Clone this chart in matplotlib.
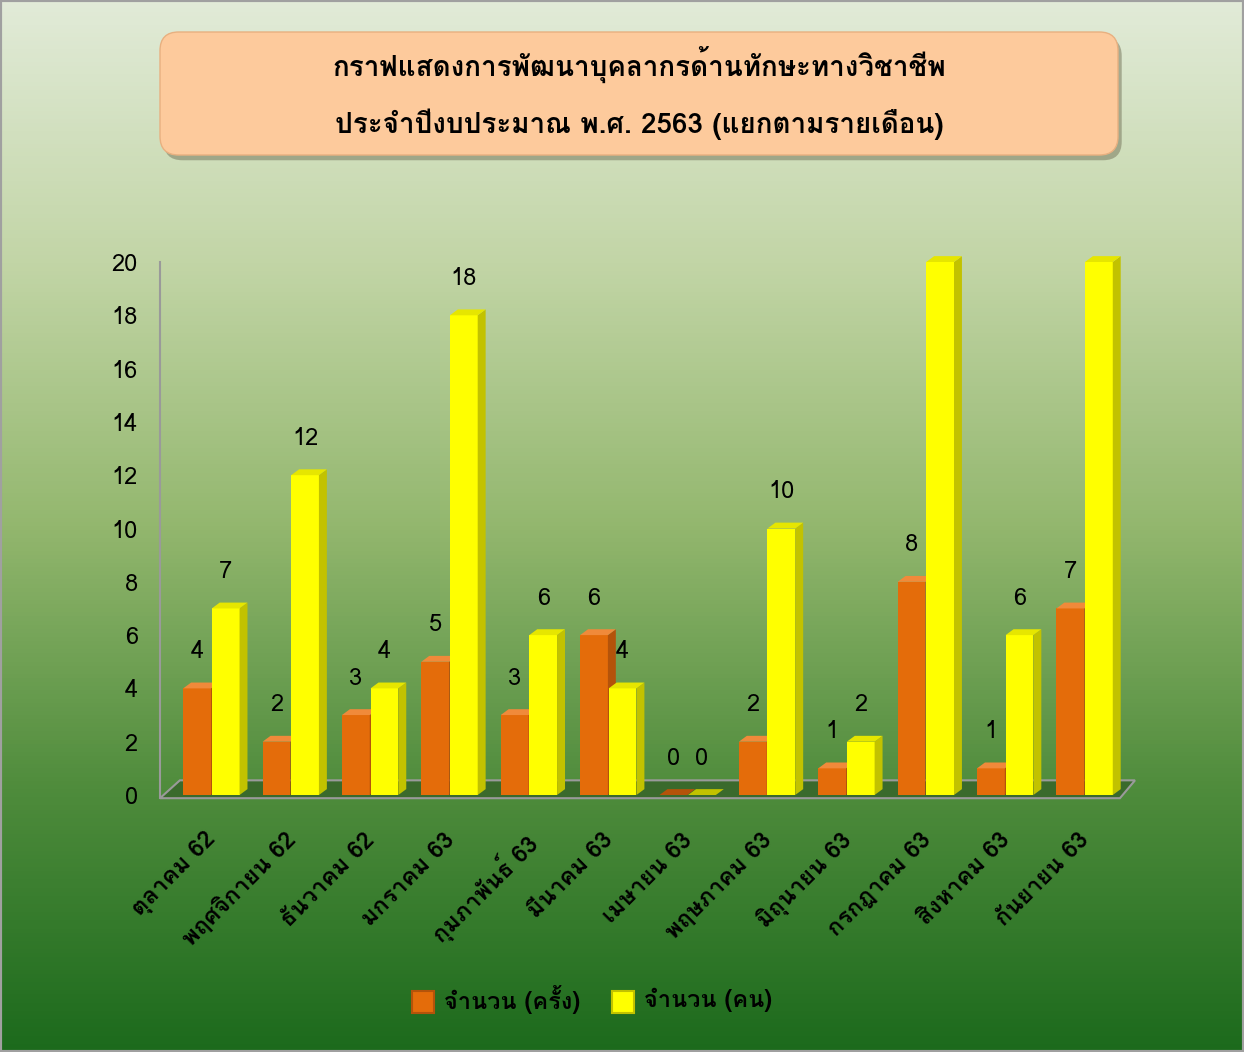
import numpy as np
import matplotlib
matplotlib.use('Agg')
import matplotlib.pyplot as plt
from matplotlib import font_manager
from matplotlib.patches import Polygon, FancyBboxPatch, Rectangle
from matplotlib.colors import LinearSegmentedColormap

# Données
mois = ['ตุลาคม 62', 'พฤศจิกายน 62', 'ธันวาคม 62', 'มกราคม 63', 'กุมภาพันธ์ 63', 'มีนาคม 63',
        'เมษายน 63', 'พฤษภาคม 63', 'มิถุนายน 63', 'กรกฎาคม 63', 'สิงหาคม 63', 'กันยายน 63']
nb_fois = [4, 2, 3, 5, 3, 6, 0, 2, 1, 8, 1, 7]
nb_pers = [7, 12, 4, 18, 6, 4, 0, 10, 2, 20, 6, 32]
serie_noms = ['จำนวน (ครั้ง)', 'จำนวน (คน)']
titre = 'กราฟแสดงการพัฒนาบุคลากรด้านทักษะทางวิชาชีพ\n\nประจำปีงบประมาณ พ.ศ. 2563 (แยกตามรายเดือน)'
y_ticks = list(range(0, 21, 2))


# Recherche d'une police qui contient le thaï
def police_thai():
    try:
        from fontTools.ttLib import TTFont
    except ImportError:
        return None
    vus = set()
    for f in font_manager.fontManager.ttflist:
        if f.name in vus:
            continue
        try:
            cmap = TTFont(f.fname, fontNumber=0, lazy=True).getBestCmap()
        except Exception:
            continue
        vus.add(f.name)
        if cmap and 0x0E01 in cmap and 0x0E33 in cmap:
            return f.name
    return None


thai = police_thai()
fams = ([thai] if thai else []) + ['DejaVu Sans']
plt.rcParams['font.family'] = fams

W, H = 1244, 1052
fig = plt.figure(figsize=(W / 100, H / 100), dpi=100)

# Fond dégradé vert
bg = fig.add_axes([0, 0, 1, 1])
bg.set_axis_off()
cmap_bg = LinearSegmentedColormap.from_list('bg', [
    (0.0, '#e2ebd8'), (0.25, '#c2d5a6'), (0.5, '#93b76e'),
    (0.75, '#4f8c3c'), (1.0, '#1c6a1c')])
grad = np.linspace(0, 1, 256).reshape(-1, 1)
bg.imshow(grad, cmap=cmap_bg, aspect='auto', extent=[0, 1, 0, 1], origin='upper')
bg.add_patch(Rectangle((0, 0), 1, 1, fill=False, edgecolor='#a0a0a0', lw=3, transform=bg.transAxes))
bg.set_xlim(0, 1)
bg.set_ylim(0, 1)

# Cadre du titre
bx0, by0, bw, bh = 160 / W, 1 - 155 / H, 958 / W, 123 / H
bg.add_patch(FancyBboxPatch((bx0 + 0.003, by0 - 0.005), bw, bh, boxstyle='round,pad=0,rounding_size=0.015',
                            facecolor='#7a7a60', edgecolor='none', alpha=0.55, mutation_aspect=W / H))
bg.add_patch(FancyBboxPatch((bx0, by0), bw, bh, boxstyle='round,pad=0,rounding_size=0.015',
                            facecolor='#fdca9c', edgecolor='#e8b080', lw=1, mutation_aspect=W / H))
bg.text(bx0 + bw / 2, by0 + bh / 2, titre, ha='center', va='center', fontsize=20,
        fontweight='bold', color='black', linespacing=1.0)

# Graphique
ax = fig.add_axes([160 / W, 1 - 795 / H, 975 / W, (795 - 262) / H])
ax.set_facecolor('none')
x = np.arange(len(mois))
w = 0.35
ymax = 20
ax.set_xlim(-0.642, 11.64)
ax.set_ylim(0, ymax)
dx, dy = 0.1, 0.22

# Sol
xa, xb = -0.642, 11.45
ax.add_patch(Polygon([(xa, -0.12), (xb, -0.12), (xb + 0.19, 0.55), (xa + 0.25, 0.55)],
                     closed=True, facecolor='#3a6a2c', edgecolor='#9a9a9a', lw=1.5, clip_on=False, zorder=1))
ax.plot([xa, xa], [-0.12, ymax], color='#9a9a9a', lw=1.5, clip_on=False, zorder=1)

couleurs = [('#e46c0a', '#b4530a', '#f08a3a'), ('#ffff00', '#c2c200', '#e6e600')]
series = [nb_fois, nb_pers]
offsets = [-w, 0.01]
for s, (vals, off, (cf, cs, ct)) in enumerate(zip(series, offsets, couleurs)):
    for xi, v in zip(x, vals):
        h = min(v, ymax)
        x0 = xi + off
        if h > 0:
            ax.bar(x0, h, width=w, align='edge', color=cf, edgecolor='none', zorder=3)
            ax.add_patch(Polygon([(x0 + w, 0), (x0 + w + dx, dy), (x0 + w + dx, h + dy), (x0 + w, h)],
                                 closed=True, facecolor=cs, edgecolor='none', zorder=3, clip_on=False))
            ax.add_patch(Polygon([(x0, h), (x0 + w, h), (x0 + w + dx, h + dy), (x0 + dx, h + dy)],
                                 closed=True, facecolor=ct, edgecolor='none', zorder=3, clip_on=False))
        else:
            ax.add_patch(Polygon([(x0, 0), (x0 + w, 0), (x0 + w + dx, dy), (x0 + dx, dy)],
                                 closed=True, facecolor=cs, edgecolor='none', zorder=3, clip_on=False))
        ax.annotate(str(v), (x0 + w / 2, h + dy), xytext=(0, 14), textcoords='offset points',
                    ha='center', va='bottom', fontsize=17, color='black', clip_on=False)

ax.set_yticks(y_ticks)
ax.set_yticklabels([str(t) for t in y_ticks], fontsize=17)
ax.set_xticks(x - 0.08)
ax.set_xticklabels(mois, rotation=45, ha='right', rotation_mode='anchor', fontsize=17, fontweight='bold')
ax.tick_params(axis='both', length=0)
ax.tick_params(axis='y', pad=16)
ax.tick_params(axis='x', pad=24)
for sp in ax.spines.values():
    sp.set_visible(False)

# Légende
lx = [412 / W, 612 / W]
ly = 1 - 1002 / H
for (cf, cs, ct), nom, xl in zip(couleurs, serie_noms, lx):
    bg.add_patch(Rectangle((xl, ly - 11 / H), 22 / W, 22 / H, facecolor=cf, edgecolor=cs, lw=1.5))
    bg.text(xl + 32 / W, ly + 2 / H, nom, ha='left', va='center', fontsize=17, fontweight='bold', color='black')

fig.savefig('out.png', dpi=100)
